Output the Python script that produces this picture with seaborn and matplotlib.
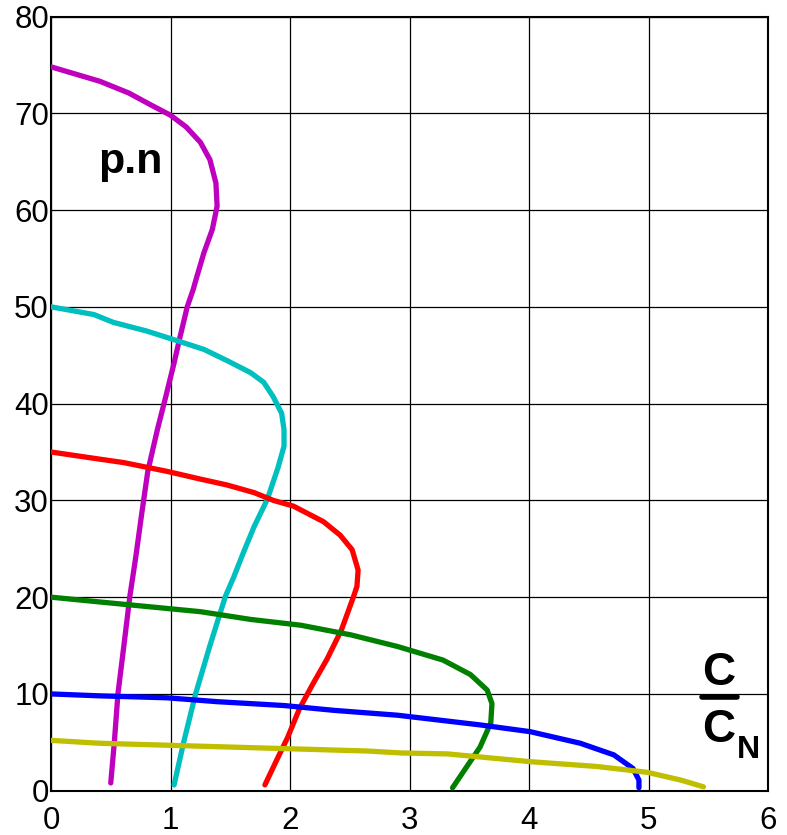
import matplotlib
matplotlib.use("Agg")
import matplotlib.pyplot as plt
import seaborn as sns
import pandas as pd
from matplotlib.lines import Line2D

# Speed–torque characteristics, one curve per pole-pair/speed setting
magenta_x = [0.0, 0.41, 0.65, 0.83, 1.0, 1.13, 1.25, 1.33, 1.38, 1.39, 1.35, 1.28, 1.22, 1.19,
             1.14, 1.08, 1.03, 0.96, 0.89, 0.81, 0.76, 0.71, 0.66, 0.61, 0.56, 0.53, 0.5]
magenta_y = [74.8, 73.3, 72.1, 70.9, 69.8, 68.6, 67.0, 65.2, 62.8, 60.4, 58.0, 55.6, 53.1, 51.8,
             50.0, 46.9, 44.2, 40.7, 37.3, 33.0, 28.7, 24.2, 20.1, 15.0, 10.0, 5.0, 0.8]

cyan_x = [0.0, 0.36, 0.52, 0.80, 1.03, 1.28, 1.48, 1.67, 1.78, 1.86, 1.93, 1.95, 1.95, 1.90,
          1.81, 1.70, 1.61, 1.53, 1.46, 1.33, 1.21, 1.11, 1.03]
cyan_y = [50.0, 49.2, 48.4, 47.5, 46.6, 45.6, 44.4, 43.2, 42.2, 40.7, 39.0, 37.3, 35.6, 33.4,
          30.1, 27.3, 24.6, 22.1, 20.1, 15.0, 10.0, 5.0, 0.6]

red_x = [0.0, 0.33, 0.61, 0.97, 1.25, 1.47, 1.70, 1.86, 2.03, 2.28, 2.42, 2.52, 2.57, 2.56,
         2.53, 2.43, 2.31, 2.19, 2.08, 1.98, 1.89, 1.79]
red_y = [35.0, 34.4, 33.9, 33.0, 32.2, 31.6, 30.8, 30.0, 29.4, 27.8, 26.4, 24.9, 22.8, 21.1,
         20.0, 16.6, 13.6, 11.0, 8.5, 5.5, 3.2, 0.6]

green_x = [0.0, 0.41, 0.83, 1.25, 1.67, 2.09, 2.51, 2.90, 3.28, 3.51, 3.65, 3.69, 3.68, 3.59,
           3.48, 3.36]
green_y = [20.0, 19.5, 19.0, 18.5, 17.7, 17.1, 16.1, 14.9, 13.5, 12.0, 10.4, 9.0, 7.0, 4.5,
           2.5, 0.3]

blue_x = [0.0, 0.41, 0.97, 1.39, 1.95, 2.37, 2.90, 3.59, 4.01, 4.43, 4.71, 4.87, 4.92, 4.92]
blue_y = [10.0, 9.8, 9.6, 9.2, 8.8, 8.3, 7.8, 6.8, 6.1, 4.9, 3.7, 2.3, 1.1, 0.3]

yellow_x = [0.0, 0.41, 0.97, 1.53, 2.09, 2.65, 2.93, 3.32, 4.01, 4.57, 4.99, 5.27, 5.46]
yellow_y = [5.2, 4.9, 4.7, 4.5, 4.3, 4.1, 3.9, 3.8, 3.0, 2.5, 1.9, 1.1, 0.4]

x_ticks = [0, 1, 2, 3, 4, 5, 6]
y_ticks = [0, 10, 20, 30, 40, 50, 60, 70, 80]

curves = {
    "magenta": (magenta_x, magenta_y, "#BF00BF"),
    "cyan": (cyan_x, cyan_y, "#00BFBF"),
    "red": (red_x, red_y, "#FF0000"),
    "green": (green_x, green_y, "#008000"),
    "blue": (blue_x, blue_y, "#0000FF"),
    "yellow": (yellow_x, yellow_y, "#BFBF00"),
}

rows = []
for name, (xs, ys, _) in curves.items():
    for i, (xv, yv) in enumerate(zip(xs, ys)):
        rows.append({"curve": name, "idx": i, "x": xv, "y": yv})
df = pd.DataFrame(rows)
palette = {name: c for name, (_, _, c) in curves.items()}

sns.set_style("white")
plt.rcParams["font.family"] = ["Liberation Sans", "DejaVu Sans"]
plt.rcParams["text.color"] = "black"

W, H = 787, 835
fig = plt.figure(figsize=(W / 100, H / 100), dpi=100)
ax = fig.add_axes([51 / W, 1 - 790.7 / H, (768 - 51) / W, (790.7 - 16.5) / H])

sns.lineplot(data=df, x="x", y="y", hue="curve", units="curve", palette=palette,
             sort=False, estimator=None, legend=False, linewidth=3.8, ax=ax, zorder=3)

ax.set_xlim(0, 6)
ax.set_ylim(0, 80)
ax.set_xticks(x_ticks)
ax.set_yticks(y_ticks)
ax.set_xticklabels([str(v) for v in x_ticks])
ax.set_yticklabels([str(v) for v in y_ticks])
ax.tick_params(axis="both", labelsize=22.5, length=0, colors="black")
ax.tick_params(axis="x", pad=11)
ax.tick_params(axis="y", pad=1.5)
ax.set_xlabel("")
ax.set_ylabel("")
ax.grid(True, color="black", linewidth=0.9)
ax.set_axisbelow(True)
for sp in ax.spines.values():
    sp.set_visible(True)
    sp.set_color("black")
    sp.set_linewidth(1.5)

# axis annotations
ax.text(0.66, 65.0, "p.n", fontsize=31, fontweight="bold", ha="center", va="center",
        color="black")

fig.text(719 / W, 1 - 673 / H, "C", fontsize=33, fontweight="bold", ha="center", va="center",
         color="black")
fig.add_artist(Line2D([702 / W, 737 / W], [1 - 697 / H, 1 - 697 / H],
                      transform=fig.transFigure, color="black", linewidth=4))
fig.text(719 / W, 1 - 730 / H, "C", fontsize=33, fontweight="bold", ha="center", va="center",
         color="black")
fig.text(748 / W, 1 - 750 / H, "N", fontsize=23, fontweight="bold", ha="center", va="center",
         color="black")

fig.savefig("out.png", dpi=100)
